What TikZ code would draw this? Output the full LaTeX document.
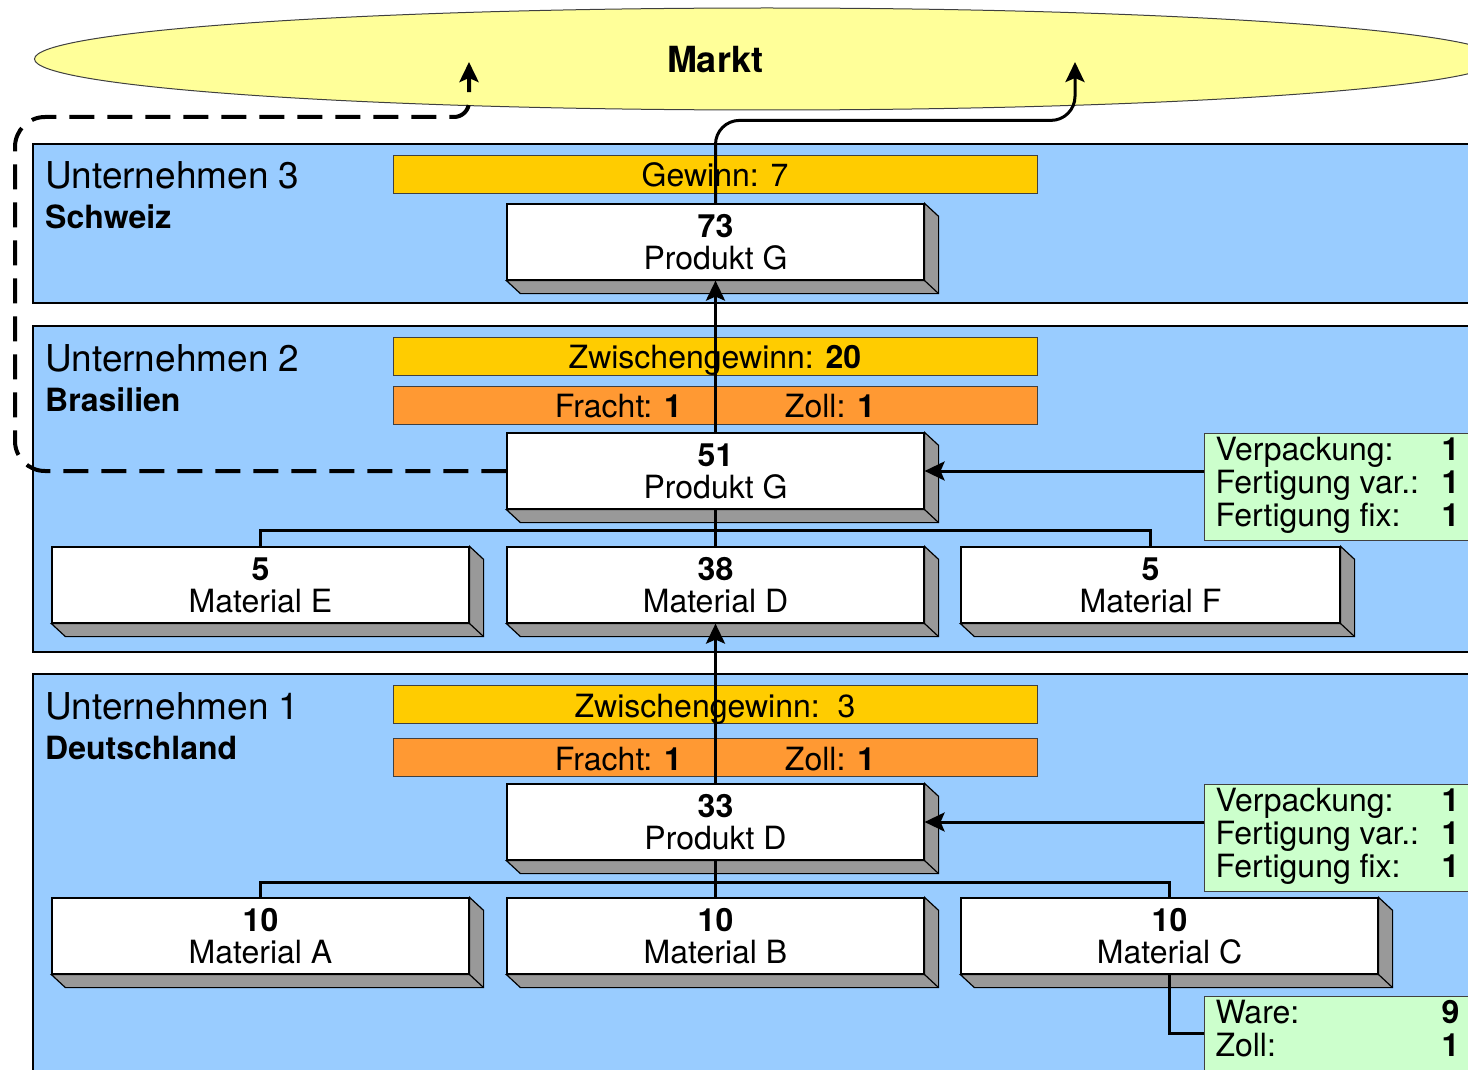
\documentclass[tikz,border=0pt]{standalone}
\usepackage{fontspec}
\setmainfont{TeX Gyre Heros}
\usetikzlibrary{arrows.meta, shapes.geometric}

\definecolor{bandblue}{HTML}{99CCFF}
\definecolor{gewinngelb}{HTML}{FFCC00}
\definecolor{frachtorange}{HTML}{FF9933}
\definecolor{kostengruen}{HTML}{CCFFCC}
\definecolor{marktgelb}{HTML}{FFFF99}
\definecolor{seitengrau}{HTML}{999999}

\newcommand{\mainfs}{\fontsize{32}{32}\selectfont}
\newcommand{\titlefs}{\fontsize{37}{37}\selectfont}
\newcommand{\marktfs}{\fontsize{36}{36}\selectfont\bfseries}

% side and bottom face of a block
\newcommand{\boxdepth}[1]{%
  \filldraw[fill=seitengrau, line width=1.2pt] (#1.north east) -- ++(\dx,\dy)
    -- ([shift={(\dx,\dy)}]#1.south east) -- ([shift={(\dx,\dy)}]#1.south west)
    -- (#1.south west) -- (#1.south east) -- cycle;
  \draw[line width=1.2pt] (#1.south east) -- ++(\dx,\dy);}

\begin{document}
\begin{tikzpicture}[x=1pt, y=-1pt,
    band/.style={fill=bandblue, draw=black, line width=1.6pt},
    bar/.style={draw=black!75, line width=0.8pt, minimum width=644pt, minimum height=38pt,
      inner sep=0pt, text height=25pt, text depth=0pt, font=\mainfs},
    blk/.style={draw, fill=white, line width=1.2pt, minimum height=76pt, inner sep=0pt,
      align=center, font=\mainfs},
    kosten/.style={draw=black!75, fill=kostengruen, line width=1pt, anchor=north west,
      inner xsep=11pt, inner ysep=4pt, font=\mainfs},
    arr/.style={line width=3pt, -{Stealth[length=20pt, width=19pt, inset=4pt]}},
    conn/.style={line width=3pt},
    dasharr/.style={line width=4pt, dash pattern=on 25pt off 13pt,
      -{Stealth[length=20pt, width=19pt, inset=4pt]}}]
  \pgfmathsetmacro{\dx}{14} % depth x
  \pgfmathsetmacro{\dy}{13} % depth y
  \useasboundingbox (0,0) rectangle (1468,1070);
  \clip (0,0) rectangle (1468,1070);

  % market
  \node[ellipse, draw=black!75, fill=marktgelb, line width=1pt, minimum width=1465pt,
    minimum height=102pt, inner sep=0pt] (mkt) at (767,59) {};
  \node[font=\marktfs] (mlbl) at (715,60) {Markt};
  \coordinate (m1) at (469,62);
  \coordinate (m2) at (1075,62);

  % companies
  \foreach \i/\t/\b/\c in {3/144/303/Schweiz, 2/326/652/Brasilien, 1/674/1100/Deutschland} {
    \draw[band] (33,\t) rectangle (1500,\b);
    \node[anchor=base west, inner sep=0pt, font=\titlefs] (u\i) at (45,\t+45) {Unternehmen \i};
    \node[anchor=base west, inner sep=0pt, font=\mainfs\bfseries] (c\i) at (45,\t+85) {\c};
  }

  % profit and cost bars
  \node[bar, fill=gewinngelb] (gw3) at (715,174) {Gewinn: 7};
  \node[bar, fill=gewinngelb] (zg2) at (715,356) {Zwischengewinn: \textbf{20}};
  \node[bar, fill=frachtorange] (fr2) at (715,405) {Fracht: \textbf{1}\hspace{103pt}Zoll: \textbf{1}};
  \node[bar, fill=gewinngelb] (zg1) at (715,704.5) {Zwischengewinn:\ \ 3};
  \node[bar, fill=frachtorange] (fr1) at (715,757.5) {Fracht: \textbf{1}\hspace{103pt}Zoll: \textbf{1}};

  % cost boxes
  \node[kosten] (k2) at (1204,433) {\begin{tabular}{@{}p{226pt}@{}r@{\hspace{30pt}}}
    Verpackung: & \textbf{1}\\ Fertigung var.: & \textbf{1}\\ Fertigung fix: & \textbf{1}\end{tabular}};
  \node[kosten] (k1) at (1204,784) {\begin{tabular}{@{}p{226pt}@{}r@{\hspace{30pt}}}
    Verpackung: & \textbf{1}\\ Fertigung var.: & \textbf{1}\\ Fertigung fix: & \textbf{1}\end{tabular}};
  \node[kosten] (k3) at (1204,996) {\begin{tabular}{@{}p{226pt}@{}r@{\hspace{30pt}}}
    Ware: & \textbf{9}\\ Zoll: & \textbf{1}\end{tabular}};

  % blocks
  \foreach \n/\x/\y/\w/\v/\t in {pG3/715.5/242/417/73/Produkt G, pG2/715.5/471/417/51/Produkt G,
      matE/260.5/585/417/5/Material E, matD/715.5/585/417/38/Material D,
      matF/1150.5/585/379/5/Material F, pD/715.5/822/417/33/Produkt D,
      matA/260.5/936/417/10/Material A, matB/715.5/936/417/10/Material B,
      matC/1169.5/936/417/10/Material C}
    \node[blk, minimum width=\w pt] (\n) at (\x,\y) {\textbf{\v}\\\t};
  \foreach \n in {pG3, pG2, matE, matD, matF, pD, matA, matB, matC}
    \boxdepth{\n};

  % flows
  \draw[arr, rounded corners=24pt] (pG3.north) -- ++(0,-83) -| (m2);
  \draw[arr] (pG2.north) -- (pG3.south);
  \draw[conn] (matD.north) -- (pG2.south);
  \draw[conn] (matE.north) -- ++(0,-16) -| (matF.north);
  \draw[arr] (pD.north) -- (matD.south);
  \draw[conn] (matB.north) -- (pD.south);
  \draw[conn] (matA.north) -- ++(0,-15) -| (matC.north);
  \draw[arr] (pG2.east -| k2.west) -- (pG2.east);
  \draw[arr] (pD.east -| k1.west) -- (pD.east);
  \draw[conn] (matC.south) |- (k3.west);
  \coordinate (dl) at (15,117);
  \draw[dasharr, rounded corners=30pt] (pG2.west) -| (dl) [rounded corners=15pt] -- (m1 |- dl) -- (m1);
\end{tikzpicture}
\end{document}
